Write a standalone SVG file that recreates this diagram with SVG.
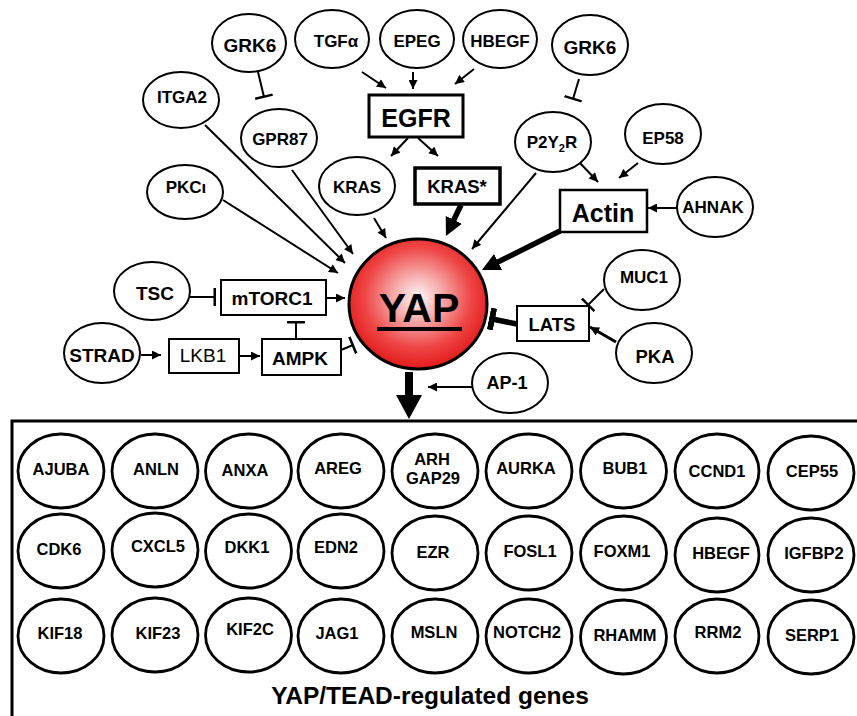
<svg xmlns="http://www.w3.org/2000/svg" width="857" height="716" viewBox="0 0 857 716">
<defs>
<style>
text{font-family:"Liberation Sans",Arial,sans-serif;font-weight:bold;fill:#000;text-anchor:middle}
.n ellipse{fill:#fff;stroke:#000;stroke-width:2}
.n rect{fill:#fff;stroke:#000;stroke-width:2}
.t17{font-size:17px}
.t19{font-size:19px}
.g ellipse{fill:#fff;stroke:#000;stroke-width:2.8}
.g text{font-size:16.5px}
.c line{stroke:#000;stroke-width:2;fill:none}
.a{marker-end:url(#arr)}
.i{marker-end:url(#bar)}
.c line.thick{stroke-width:5.5px}
</style>
<marker id="arr" viewBox="0 0 10 10" refX="10" refY="5" markerWidth="10" markerHeight="9" markerUnits="userSpaceOnUse" orient="auto"><path d="M0,0 L10,5 L0,10 z" fill="#000"/></marker>
<marker id="big" viewBox="0 0 18 18" refX="6" refY="9" markerWidth="18" markerHeight="18" markerUnits="userSpaceOnUse" orient="auto"><path d="M0,0 L18,9 L0,18 z" fill="#000"/></marker>
<marker id="bar" viewBox="0 0 4 18" refX="2" refY="9" markerWidth="4" markerHeight="18" markerUnits="userSpaceOnUse" orient="auto"><rect x="0.5" y="0" width="2.5" height="18" fill="#000"/></marker>
<marker id="barBig" viewBox="0 0 6 22" refX="3" refY="11" markerWidth="6" markerHeight="22" markerUnits="userSpaceOnUse" orient="auto"><rect x="0" y="0" width="6" height="22" fill="#000"/></marker>
<radialGradient id="yapg" cx="50%" cy="45%" r="55%">
<stop offset="0" stop-color="#fff6f6"/>
<stop offset="0.3" stop-color="#f7b0b0"/>
<stop offset="0.7" stop-color="#ef4646"/>
<stop offset="1" stop-color="#e31a1a"/>
</radialGradient>
</defs>
<rect width="857" height="716" fill="#fff"/>

<g id="connectors" class="c">
<line x1="258" y1="72" x2="264" y2="97" class="i"/>
<line x1="579" y1="79" x2="573" y2="99" class="i"/>
<line x1="362" y1="72" x2="386" y2="88" class="a"/>
<line x1="413" y1="72" x2="413" y2="89" class="a"/>
<line x1="474" y1="69" x2="455" y2="84" class="a"/>
<line x1="408" y1="138" x2="391" y2="156" class="a"/>
<line x1="418" y1="138" x2="438" y2="156" class="a"/>
<line x1="374" y1="218" x2="386" y2="238" class="a"/>
<line x1="461" y1="205" x2="451.2" y2="225.2" class="thick" marker-end="url(#big)"/>
<line x1="536" y1="173" x2="472" y2="249" class="a"/>
<line x1="580" y1="163" x2="598" y2="182" class="a"/>
<line x1="638" y1="163" x2="619" y2="178" class="a"/>
<line x1="677" y1="208" x2="648" y2="208" class="a"/>
<line x1="560" y1="231" x2="492.7" y2="264.6" class="thick" marker-end="url(#big)"/>
<line x1="205" y1="125" x2="345" y2="263" class="a"/>
<line x1="292" y1="170" x2="353" y2="254" class="a"/>
<line x1="223" y1="200" x2="338" y2="273" class="a"/>
<line x1="190" y1="297" x2="215" y2="297" class="i"/>
<line x1="327" y1="298" x2="345" y2="298" class="a"/>
<line x1="296" y1="339" x2="296" y2="322" class="i"/>
<line x1="341" y1="350" x2="353" y2="345" class="i"/>
<line x1="141" y1="355" x2="161" y2="355" class="a"/>
<line x1="240" y1="356" x2="260" y2="356" class="a"/>
<line x1="604" y1="289" x2="588" y2="305" class="i"/>
<line x1="616" y1="342" x2="590" y2="327" class="a" style="stroke-width:3"/>
<line x1="517" y1="324" x2="492" y2="319" class="thick" marker-end="url(#barBig)"/>
<line x1="472" y1="387" x2="428" y2="387" class="a"/>
<path d="M405,372 H413 V395 H422 L409,419 L396,395 H405 Z" fill="#000"/>
</g>

<g id="node-grk6-a" class="n"><ellipse cx="249" cy="43" rx="37" ry="29"/><text x="250" y="52" class="t19">GRK6</text></g>
<g id="node-tgfa" class="n"><ellipse cx="332" cy="39" rx="37" ry="29"/><text x="336" y="47" class="t17">TGFα</text></g>
<g id="node-epeg" class="n"><ellipse cx="417" cy="39" rx="37" ry="29"/><text x="417" y="47" class="t17">EPEG</text></g>
<g id="node-hbegf" class="n"><ellipse cx="500" cy="39" rx="37" ry="29"/><text x="500" y="47" class="t17">HBEGF</text></g>
<g id="node-grk6-b" class="n"><ellipse cx="590" cy="45" rx="38" ry="30"/><text x="590" y="54" class="t19">GRK6</text></g>
<g id="node-itga2" class="n"><ellipse cx="181" cy="100" rx="38" ry="28"/><text x="182" y="103" class="t17">ITGA2</text></g>
<g id="node-gpr87" class="n"><ellipse cx="279" cy="138" rx="38" ry="29"/><text x="280" y="145" class="t17">GPR87</text></g>
<g id="node-pkci" class="n"><ellipse cx="185" cy="192" rx="38" ry="27"/><text x="186" y="193" class="t17">PKCι</text></g>
<g id="node-kras" class="n"><ellipse cx="357" cy="186" rx="38" ry="29"/><text x="357" y="193" class="t17">KRAS</text></g>
<g id="node-egfr" class="n"><rect x="369" y="95" width="94" height="42" style="stroke-width:3"/><text x="416" y="127" style="font-size:25px">EGFR</text></g>
<g id="node-kras-star" class="n"><rect x="415" y="168" width="85" height="36" style="stroke-width:3.5"/><text x="457" y="193" style="font-size:18.5px">KRAS*</text></g>
<g id="node-p2y2r" class="n"><ellipse cx="553" cy="142" rx="38" ry="30"/><text x="552" y="148" class="t17">P2Y<tspan font-size="11" dy="4">2</tspan><tspan dy="-4">R</tspan></text></g>
<g id="node-ep58" class="n"><ellipse cx="663" cy="134" rx="38" ry="30"/><text x="663" y="144" class="t17">EP58</text></g>
<g id="node-actin" class="n"><rect x="560" y="190" width="87" height="42" style="stroke-width:2.5"/><text x="603" y="222" style="font-size:25px">Actin</text></g>
<g id="node-ahnak" class="n"><ellipse cx="715" cy="207" rx="38" ry="30"/><text x="713" y="213" class="t17">AHNAK</text></g>
<g id="node-muc1" class="n"><ellipse cx="642" cy="280" rx="38" ry="30"/><text x="644" y="283" class="t17">MUC1</text></g>
<g id="node-pka" class="n"><ellipse cx="654" cy="353" rx="38" ry="30"/><text x="655" y="363" style="font-size:18.5px">PKA</text></g>
<g id="node-lats" class="n"><rect x="517" y="306" width="72" height="35"/><text x="552" y="331" style="font-size:18.5px">LATS</text></g>
<g id="node-ap1" class="n"><ellipse cx="510" cy="383" rx="38" ry="30"/><text x="507" y="389" style="font-size:18px">AP-1</text></g>
<g id="node-tsc" class="n"><ellipse cx="152" cy="291" rx="38" ry="29"/><text x="155" y="300" class="t19">TSC</text></g>
<g id="node-mtorc1" class="n"><rect x="221" y="280" width="105" height="35"/><text x="272" y="305" class="t19">mTORC1</text></g>
<g id="node-strad" class="n"><ellipse cx="102" cy="353" rx="38" ry="30"/><text x="102" y="362" class="t19">STRAD</text></g>
<g id="node-lkb1" class="n"><rect x="169" y="339" width="70" height="34"/><text x="203" y="362" class="t19" style="font-weight:normal">LKB1</text></g>
<g id="node-ampk" class="n"><rect x="262" y="339" width="79" height="36"/><text x="300" y="365" class="t19">AMPK</text></g>

<g id="node-yap">
<ellipse cx="418" cy="304" rx="69" ry="65" fill="url(#yapg)" stroke="#000" stroke-width="3"/>
<text x="419" y="322" style="font-size:41px">YAP</text>
<rect x="377" y="327" width="85" height="4" fill="#000"/>
</g>

<g id="genes-box">
<path d="M12,720 V421 H860" fill="none" stroke="#000" stroke-width="3"/>
<text x="430" y="704" style="font-size:24.5px">YAP/TEAD-regulated genes</text>
</g>

<g class="g">
<g id="gene-ajuba"><ellipse cx="61" cy="471" rx="43" ry="37"/><text x="61" y="474.5">AJUBA</text></g>
<g id="gene-anln"><ellipse cx="155" cy="471" rx="43" ry="37"/><text x="156" y="474.5">ANLN</text></g>
<g id="gene-anxa"><ellipse cx="248.5" cy="471" rx="43" ry="37"/><text x="245" y="475.5">ANXA</text></g>
<g id="gene-areg"><ellipse cx="341" cy="471" rx="43" ry="37"/><text x="338" y="474">AREG</text></g>
<g id="gene-arhgap29"><ellipse cx="435" cy="471" rx="43" ry="37"/><text x="432" y="465">ARH</text><text x="433" y="484">GAP29</text></g>
<g id="gene-aurka"><ellipse cx="529" cy="471" rx="43" ry="37"/><text x="526" y="474">AURKA</text></g>
<g id="gene-bub1"><ellipse cx="623.5" cy="471" rx="43" ry="37"/><text x="625" y="474">BUB1</text></g>
<g id="gene-ccnd1"><ellipse cx="717" cy="471" rx="42" ry="37"/><text x="717" y="477">CCND1</text></g>
<g id="gene-cep55"><ellipse cx="811" cy="473" rx="43" ry="37"/><text x="812" y="477">CEP55</text></g>

<g id="gene-cdk6"><ellipse cx="61" cy="551" rx="43" ry="37"/><text x="59" y="555">CDK6</text></g>
<g id="gene-cxcl5"><ellipse cx="155" cy="550" rx="43" ry="37"/><text x="158" y="552">CXCL5</text></g>
<g id="gene-dkk1"><ellipse cx="248.5" cy="551" rx="43" ry="37"/><text x="247" y="553">DKK1</text></g>
<g id="gene-edn2"><ellipse cx="341" cy="551" rx="43" ry="37"/><text x="336" y="553">EDN2</text></g>
<g id="gene-ezr"><ellipse cx="435" cy="553" rx="43" ry="37"/><text x="433" y="558">EZR</text></g>
<g id="gene-fosl1"><ellipse cx="529" cy="553" rx="43" ry="37"/><text x="530" y="557">FOSL1</text></g>
<g id="gene-foxm1"><ellipse cx="623.5" cy="553" rx="43" ry="37"/><text x="622" y="557">FOXM1</text></g>
<g id="gene-hbegf2"><ellipse cx="717" cy="555" rx="42" ry="37"/><text x="721" y="559">HBEGF</text></g>
<g id="gene-igfbp2"><ellipse cx="811" cy="555" rx="43" ry="37"/><text x="814" y="559">IGFBP2</text></g>

<g id="gene-kif18"><ellipse cx="61" cy="636" rx="43" ry="37"/><text x="60" y="639">KIF18</text></g>
<g id="gene-kif23"><ellipse cx="155" cy="635" rx="43" ry="37"/><text x="158" y="639">KIF23</text></g>
<g id="gene-kif2c"><ellipse cx="248.5" cy="635" rx="43" ry="37"/><text x="250" y="635">KIF2C</text></g>
<g id="gene-jag1"><ellipse cx="341" cy="636" rx="43" ry="37"/><text x="337" y="639">JAG1</text></g>
<g id="gene-msln"><ellipse cx="435" cy="636" rx="43" ry="37"/><text x="434" y="638">MSLN</text></g>
<g id="gene-notch2"><ellipse cx="529" cy="636" rx="43" ry="37"/><text x="527" y="638">NOTCH2</text></g>
<g id="gene-rhamm"><ellipse cx="623.5" cy="637" rx="43" ry="37"/><text x="625" y="641">RHAMM</text></g>
<g id="gene-rrm2"><ellipse cx="717" cy="636" rx="42" ry="37"/><text x="718" y="638">RRM2</text></g>
<g id="gene-serp1"><ellipse cx="811" cy="637" rx="43" ry="37"/><text x="812" y="641">SERP1</text></g>
</g>
</svg>
